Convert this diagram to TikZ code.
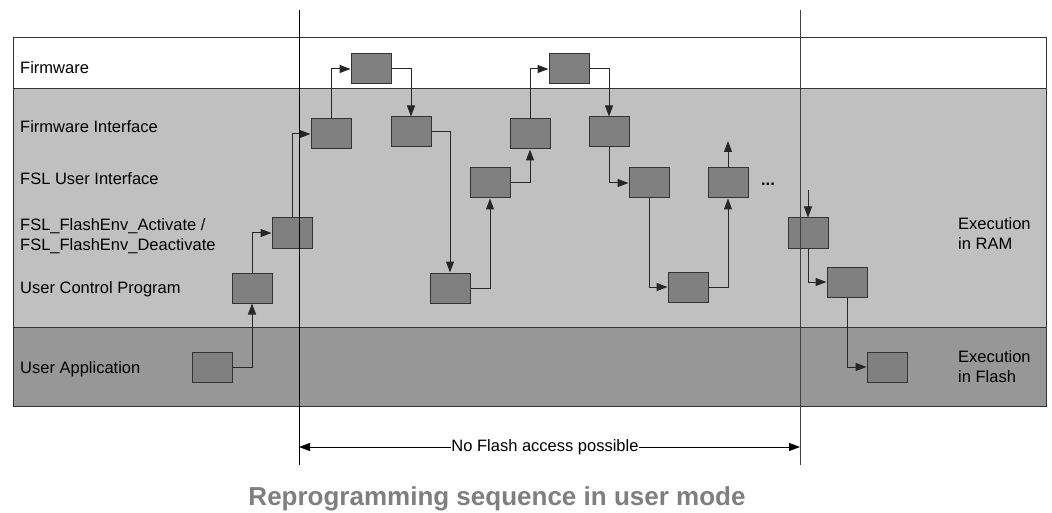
\documentclass[tikz,border=0pt]{standalone}
\usepackage{fontspec}
\setmainfont{Liberation Sans}
\usetikzlibrary{arrows.meta}
\definecolor{bandlight}{HTML}{C0C0C0}
\definecolor{banddark}{HTML}{979797}
\definecolor{stepgray}{HTML}{808080}
\definecolor{titlegray}{HTML}{7F7F7F}
\begin{document}
\begin{tikzpicture}[x=1pt,y=-1pt,
	blk/.style={draw=black!80, fill=stepgray, line width=1pt, minimum width=40pt, minimum height=30pt, inner sep=0pt},
	lbl/.style={anchor=base west, font=\fontsize{16.5}{20}\selectfont, inner sep=0pt},
	lbltwo/.style={anchor=west, align=left, font=\fontsize{16.5}{20}\selectfont, inner sep=0pt},
	con/.style={line width=1pt, draw=black!85, -{Triangle[length=11pt,width=8pt]}},
	]
	\useasboundingbox (0,0) rectangle (1052,513);
	\fill [white] (0,0) rectangle (1052,513);
	% bands
	\draw [black!80, line width=1pt, fill=white] (13,38) rectangle (1046,89);
	\draw [black!80, line width=1pt, fill=bandlight] (13,89) rectangle (1046,327);
	\draw [black!80, line width=1pt, fill=banddark] (13,327) rectangle (1046,406);

	\node [lbl] (lfw) at (20,74) {Firmware};
	\node [lbl] (lfi) at (20,133) {Firmware Interface};
	\node [lbl] (lui) at (20,185) {FSL User Interface};
	\node [lbltwo] (lenv) at (20,236) {FSL\_FlashEnv\_Activate /\\FSL\_FlashEnv\_Deactivate};
	\node [lbl] (lucp) at (20,293) {User Control Program};
	\node [lbl] (lua) at (20,373) {User Application};
	\node [lbltwo] (lram) at (958,234) {Execution\\in RAM};
	\node [lbltwo] (lflash) at (958,367) {Execution\\in Flash};

	% steps
	\node [blk] (ua1) at (212,367) {};
	\node [blk] (ucp1) at (252,288) {};
	\node [blk] (env1) at (292,233) {};
	\node [blk] (fi1) at (331,134) {};
	\node [blk] (fw1) at (371,69) {};
	\node [blk] (fi2) at (411,132) {};
	\node [blk] (ucp2) at (450,288) {};
	\node [blk] (ui1) at (490,183) {};
	\node [blk] (fi3) at (530,134) {};
	\node [blk] (fw2) at (569,69) {};
	\node [blk] (fi4) at (609,132) {};
	\node [blk] (ui2) at (649,183) {};
	\node [blk] (ucp3) at (688,287) {};
	\node [blk] (ui3) at (728,183) {};
	\node [font=\fontsize{16.5}{20}\selectfont\bfseries] (dots) at (768,184) {...};
	\node [blk] (env2) at (808,233) {};
	\node [blk] (ucp4) at (847,282) {};
	\node [blk] (ua2) at (887,367) {};
	\coordinate (ui3out) at (728,141);
	\coordinate (env2in) at (808,190);

	\draw [con] (ua1.east) -| (ucp1.south);
	\draw [con] (ucp1.north) |- (env1.west);
	\draw [con] (env1.north) |- (fi1.west);
	\draw [con] (fi1.north) |- (fw1.west);
	\draw [con] (fw1.east) -| (fi2.north);
	\draw [con] (fi2.east) -| (ucp2.north);
	\draw [con] (ucp2.east) -| (ui1.south);
	\draw [con] (ui1.east) -| (fi3.south);
	\draw [con] (fi3.north) |- (fw2.west);
	\draw [con] (fw2.east) -| (fi4.north);
	\draw [con] (fi4.south) |- (ui2.west);
	\draw [con] (ui2.south) |- (ucp3.west);
	\draw [con] (ucp3.east) -| (ui3.south);
	\draw [con] (ui3.north) -- (ui3out);
	\draw [con] (env2in) -- (env2.north);
	\draw [con] (env2.south) |- (ucp4.west);
	\draw [con] (ucp4.south) |- (ua2.west);

	% no flash access window
	\coordinate (wlt) at (299,10);
	\coordinate (wlb) at (299,465);
	\coordinate (wrt) at (800,10);
	\coordinate (wrb) at (800,465);
	\draw [black, line width=1pt] (wlt) -- (wlb);
	\draw [black!75, line width=1pt] (wrt) -- (wrb);
	\coordinate (al) at (299,447);
	\coordinate (ar) at (800,447);
	\node [font=\fontsize{16.5}{20}\selectfont, inner sep=0.5pt] (nofl) at (545,447) {No Flash access possible};
	\draw [con, draw=black] (nofl.west) -- (al);
	\draw [con, draw=black] (nofl.east) -- (ar);

	\node [anchor=base, text=titlegray, font=\fontsize{26}{30}\selectfont\bfseries] (title) at (497,505) {Reprogramming sequence in user mode};
\end{tikzpicture}
\end{document}
